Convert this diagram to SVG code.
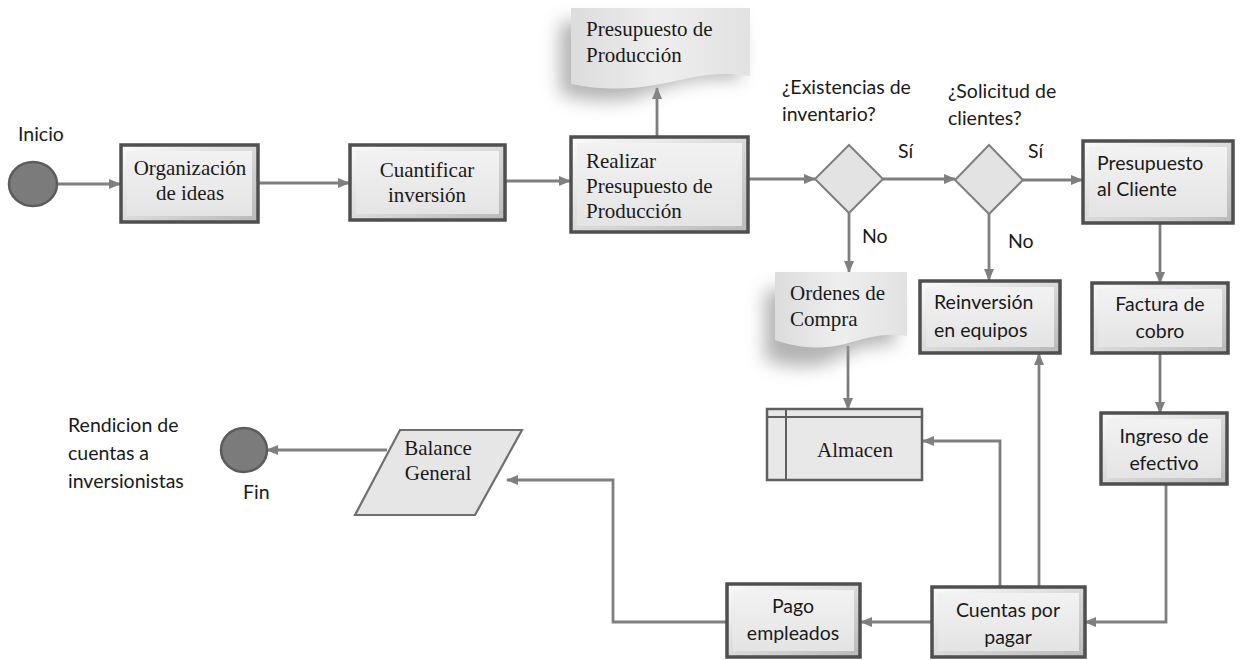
<svg xmlns="http://www.w3.org/2000/svg" width="1241" height="660" viewBox="0 0 1241 660">
<defs>
<linearGradient id="bevel" x1="0" y1="0" x2="1" y2="1">
<stop offset="0" stop-color="#fbfbfb"/>
<stop offset="1" stop-color="#b9b9b9"/>
</linearGradient>
<linearGradient id="face" x1="0" y1="0" x2="0" y2="1">
<stop offset="0" stop-color="#f2f2f2"/>
<stop offset="1" stop-color="#e4e4e4"/>
</linearGradient>
<linearGradient id="doc" x1="0" y1="0" x2="1" y2="0">
<stop offset="0" stop-color="#dcdcdc"/>
<stop offset="0.5" stop-color="#eeeeee"/>
<stop offset="1" stop-color="#e2e2e2"/>
</linearGradient>
<filter id="shadow" x="-30%" y="-30%" width="160%" height="180%">
<feGaussianBlur stdDeviation="9"/>
</filter>
<marker id="arr" markerUnits="userSpaceOnUse" markerWidth="12" markerHeight="10" refX="11" refY="5" orient="auto">
<path d="M0,0 L12,5 L0,10 Z" fill="#7f7f7f"/>
</marker>
<style>
.box{fill:url(#bevel);stroke:#4f4f4f;stroke-width:3.5}
.in{fill:url(#face);stroke:none}
.con{fill:none;stroke:#7f7f7f;stroke-width:2.8;marker-end:url(#arr)}
.dia{fill:#e3e3e3;stroke:#7f7f7f;stroke-width:2}
.circ{fill:#7b7b7b;stroke:#5c5c5c;stroke-width:2.5}
.docs{fill:#9a9a9a;opacity:0.75}
.docf{fill:url(#doc)}
.serif{font-family:"Liberation Serif","Times New Roman",serif;font-size:21px;fill:#1a1a1a}
.sans{font-family:Lato,"Liberation Sans",sans-serif;font-size:19.5px;fill:#1a1a1a}
.mid{text-anchor:middle}
</style>
</defs>
<rect width="1241" height="660" fill="#ffffff"/>

<g id="connectors">
<path class="con" d="M57,184 H120"/>
<path class="con" d="M258,183 H349"/>
<path class="con" d="M505,181 H570"/>
<path class="con" d="M657,137 V88"/>
<path class="con" d="M748,179 H815"/>
<path class="con" d="M883,179 H955"/>
<path class="con" d="M1023,180 H1082"/>
<path class="con" d="M849,213 V272"/>
<path class="con" d="M989,213 V280"/>
<path class="con" d="M1160,223 V283"/>
<path class="con" d="M1160,352 V413"/>
<path class="con" d="M1166,484 V622 H1085"/>
<path class="con" d="M848,346 V409"/>
<path class="con" d="M1000,587 V441 H923"/>
<path class="con" d="M1039,587 V354"/>
<path class="con" d="M932,622 H861"/>
<path class="con" d="M727,622 H613 V480 H507"/>
<path class="con" d="M387,450 H267"/>
</g>

<g id="inicio">
<ellipse class="circ" cx="33" cy="184" rx="24" ry="22"/>
<text class="sans" x="18" y="141">Inicio</text>
</g>

<g id="organizacion">
<rect class="box" x="121" y="145" width="137" height="77"/>
<rect class="in" x="127" y="151" width="125" height="65"/>
<text class="serif mid" x="190" y="175">Organización</text>
<text class="serif mid" x="190" y="200">de ideas</text>
</g>

<g id="cuantificar">
<rect class="box" x="350" y="145" width="155" height="75"/>
<rect class="in" x="356" y="151" width="143" height="63"/>
<text class="serif mid" x="427" y="177">Cuantificar</text>
<text class="serif mid" x="427" y="202">inversión</text>
</g>

<g id="realizar">
<rect class="box" x="571" y="137" width="177" height="95"/>
<rect class="in" x="577" y="143" width="165" height="83"/>
<text class="serif" x="586" y="168">Realizar</text>
<text class="serif" x="586" y="193">Presupuesto de</text>
<text class="serif" x="586" y="218">Producción</text>
</g>

<g id="presupuesto-doc">
<path class="docs" filter="url(#shadow)" d="M560,22 H740 V80 C700,74 670,84 640,96 C610,104 585,100 560,94 Z"/>
<path class="docf" d="M571,8 H750 V76 C715,70 690,78 660,84 C630,90 600,90 571,84 Z"/>
<text class="serif" x="586" y="36">Presupuesto de</text>
<text class="serif" x="586" y="62">Producción</text>
</g>

<g id="existencias">
<polygon class="dia" points="849,145 883,179 849,213 815,179"/>
<text class="sans" x="782" y="94">¿Existencias de</text>
<text class="sans" x="782" y="121">inventario?</text>
<text class="sans" x="898" y="158">Sí</text>
<text class="sans" x="862" y="243">No</text>
</g>

<g id="solicitud">
<polygon class="dia" points="989,145 1023,180 989,214 955,180"/>
<text class="sans" x="948" y="98">¿Solicitud de</text>
<text class="sans" x="948" y="125">clientes?</text>
<text class="sans" x="1028" y="158">Sí</text>
<text class="sans" x="1008" y="248">No</text>
</g>

<g id="presupuesto-cliente">
<rect class="box" x="1083" y="141" width="150" height="82"/>
<rect class="in" x="1089" y="147" width="138" height="70"/>
<text class="sans" x="1097" y="170">Presupuesto</text>
<text class="sans" x="1097" y="196">al Cliente</text>
</g>

<g id="ordenes">
<path class="docs" filter="url(#shadow)" d="M765,290 H895 V345 C870,342 850,350 830,362 C805,370 785,366 765,360 Z"/>
<path class="docf" d="M775,272 H907 V336 C885,332 865,338 845,344 C820,350 798,348 775,340 Z"/>
<text class="serif" x="790" y="300">Ordenes de</text>
<text class="serif" x="790" y="326">Compra</text>
</g>

<g id="reinversion">
<rect class="box" x="920" y="281" width="140" height="72"/>
<rect class="in" x="926" y="287" width="128" height="60"/>
<text class="sans" x="934" y="309">Reinversión</text>
<text class="sans" x="934" y="337">en equipos</text>
</g>

<g id="factura">
<rect class="box" x="1092" y="283" width="136" height="70"/>
<rect class="in" x="1098" y="289" width="124" height="58"/>
<text class="sans mid" x="1160" y="311">Factura de</text>
<text class="sans mid" x="1160" y="338">cobro</text>
</g>

<g id="ingreso">
<rect class="box" x="1101" y="413" width="126" height="71"/>
<rect class="in" x="1107" y="419" width="114" height="59"/>
<text class="sans mid" x="1164" y="443">Ingreso de</text>
<text class="sans mid" x="1164" y="470">efectivo</text>
</g>

<g id="almacen">
<rect x="767" y="409" width="155" height="71" fill="#e8e8e8" stroke="#5f5f5f" stroke-width="2.5"/>
<line x1="767" y1="417" x2="922" y2="417" stroke="#5f5f5f" stroke-width="2"/>
<line x1="786" y1="409" x2="786" y2="480" stroke="#5f5f5f" stroke-width="2"/>
<text class="serif mid" x="855" y="457">Almacen</text>
</g>

<g id="cuentas">
<rect class="box" x="932" y="587" width="153" height="70"/>
<rect class="in" x="938" y="593" width="141" height="58"/>
<text class="sans mid" x="1008" y="617">Cuentas por</text>
<text class="sans mid" x="1008" y="644">pagar</text>
</g>

<g id="pago">
<rect class="box" x="727" y="584" width="133" height="73"/>
<rect class="in" x="733" y="590" width="121" height="61"/>
<text class="sans mid" x="793" y="613">Pago</text>
<text class="sans mid" x="793" y="640">empleados</text>
</g>

<g id="balance">
<polygon points="400,430 522,430 475,515 355,515" fill="#e6e6e6" stroke="#6f6f6f" stroke-width="2.2"/>
<text class="serif mid" x="438" y="455">Balance</text>
<text class="serif mid" x="438" y="480">General</text>
</g>

<g id="fin">
<ellipse class="circ" cx="244" cy="450" rx="23" ry="22"/>
<text class="sans" x="243" y="499">Fin</text>
<text class="sans" x="68" y="432">Rendicion de</text>
<text class="sans" x="68" y="460">cuentas a</text>
<text class="sans" x="68" y="488">inversionistas</text>
</g>
</svg>
